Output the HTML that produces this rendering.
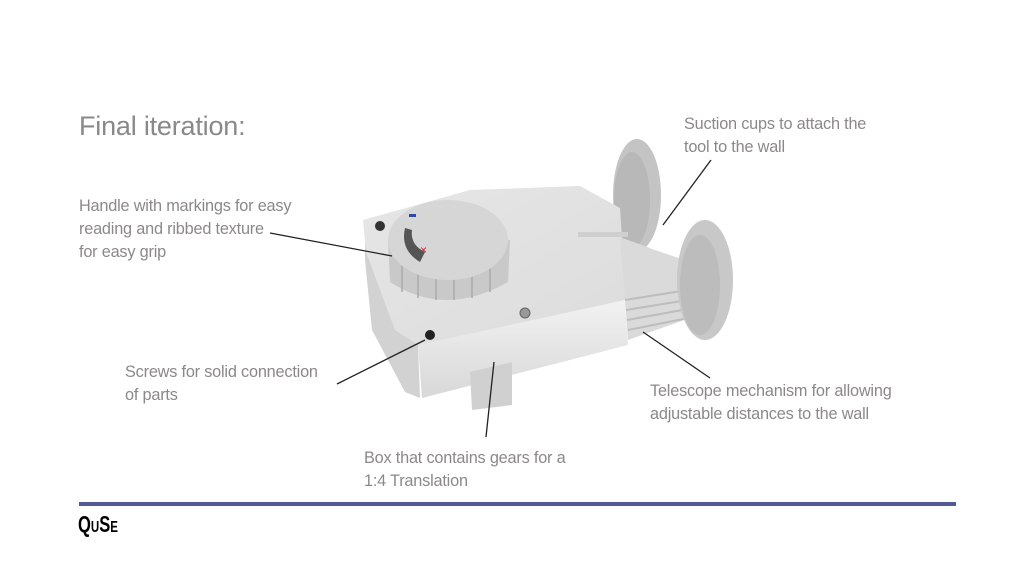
<!DOCTYPE html>
<html><head><meta charset="utf-8"><style>
body{margin:0;width:1024px;height:576px;background:#fff;position:relative;overflow:hidden;font-family:"Liberation Sans",sans-serif}
.t{position:absolute;color:#8c8888;font-size:16.3px;line-height:23px;letter-spacing:-0.2px}
</style></head><body>
<div class="t" style="left:79px;top:110px;font-size:27px;line-height:32px;color:#8a8888">Final iteration:</div>
<div class="t" style="left:79px;top:195px">Handle with markings for easy<br>reading and ribbed texture<br>for easy grip</div>
<div class="t" style="left:684px;top:113px">Suction cups to attach the<br>tool to the wall</div>
<div class="t" style="left:125px;top:361px">Screws for solid connection<br>of parts</div>
<div class="t" style="left:650px;top:380px">Telescope mechanism for allowing<br>adjustable distances to the wall</div>
<div class="t" style="left:364px;top:447px">Box that contains gears for a<br>1:4 Translation</div>
<div style="position:absolute;left:79px;top:502px;width:877px;height:4px;background:#525b96"></div>
<div style="position:absolute;left:78px;top:511px;font-family:'Liberation Sans Narrow','Liberation Sans',sans-serif;font-weight:bold;font-size:23px;color:#000;transform:scaleX(0.72);transform-origin:left">Q<span style="font-size:16px">U</span>S<span style="font-size:16px">E</span></div>
<svg style="position:absolute;left:0;top:0" width="1024" height="576">
<defs>
<linearGradient id="g1" x1="0" y1="0" x2="1" y2="1"><stop offset="0" stop-color="#e6e6e6"/><stop offset="1" stop-color="#dcdcdc"/></linearGradient>
<linearGradient id="g2" x1="0" y1="0" x2="0" y2="1"><stop offset="0" stop-color="#f2f2f2"/><stop offset="1" stop-color="#d8d8d8"/></linearGradient>
</defs>
<ellipse cx="637" cy="195" rx="24" ry="56" fill="#c4c4c4"/>
<ellipse cx="632" cy="200" rx="18" ry="48" fill="#b8b8b8"/>
<polygon points="365,222 365,260 372,330 405,392 420,398 418,345" fill="#d2d2d2"/>
<polygon points="363,220 470,190 580,186 620,208 622,238 650,248 625,300 520,328 418,345 395,330 366,252" fill="url(#g1)"/>
<polygon points="418,345 625,300 628,345 422,398" fill="url(#g2)"/>
<polygon points="470,372 512,362 512,405 472,410" fill="#d0d0d0"/>
<polygon points="620,238 690,262 690,318 628,340 625,300" fill="#dadada"/>
<g stroke="#bdbdbd" stroke-width="2"><line x1="625" y1="300" x2="688" y2="290"/><line x1="626" y1="310" x2="688" y2="300"/><line x1="627" y1="320" x2="688" y2="309"/><line x1="628" y1="330" x2="688" y2="318"/></g>
<rect x="578" y="232" width="50" height="5" fill="#cfcfcf"/>
<ellipse cx="705" cy="280" rx="28" ry="60" fill="#c8c8c8"/>
<ellipse cx="700" cy="285" rx="20" ry="50" fill="#bcbcbc"/>
<path d="M388,240 L390,282 Q445,318 508,282 L510,240 Z" fill="#c9c9c9"/>
<g stroke="#aaa" stroke-width="1.5"><line x1="402" y1="265" x2="402" y2="292"/><line x1="418" y1="270" x2="418" y2="298"/><line x1="436" y1="272" x2="436" y2="300"/><line x1="454" y1="272" x2="454" y2="300"/><line x1="472" y1="270" x2="472" y2="298"/><line x1="490" y1="266" x2="490" y2="292"/></g>
<ellipse cx="448" cy="240" rx="60" ry="40" fill="#d6d6d6"/>
<path d="M405,228 Q400,250 420,262 L425,252 Q410,245 412,230 Z" fill="#555"/>
<rect x="409" y="214" width="7" height="3" fill="#3344aa"/>
<text x="420" y="254" fill="#cc2233" font-size="12" font-family="Liberation Sans">×</text>
<circle cx="380" cy="226" r="5" fill="#333"/>
<circle cx="430" cy="335" r="5" fill="#222"/>
<circle cx="525" cy="313" r="5" fill="#999" stroke="#666"/>
<g stroke="#222" stroke-width="1.3" fill="none">
<line x1="270" y1="233" x2="392" y2="256"/>
<line x1="711" y1="160" x2="663" y2="225"/>
<line x1="337" y1="384" x2="425" y2="340"/>
<line x1="710" y1="378" x2="643" y2="332"/>
<line x1="486" y1="437" x2="494" y2="362"/>
</g>
</svg>
</body></html>
